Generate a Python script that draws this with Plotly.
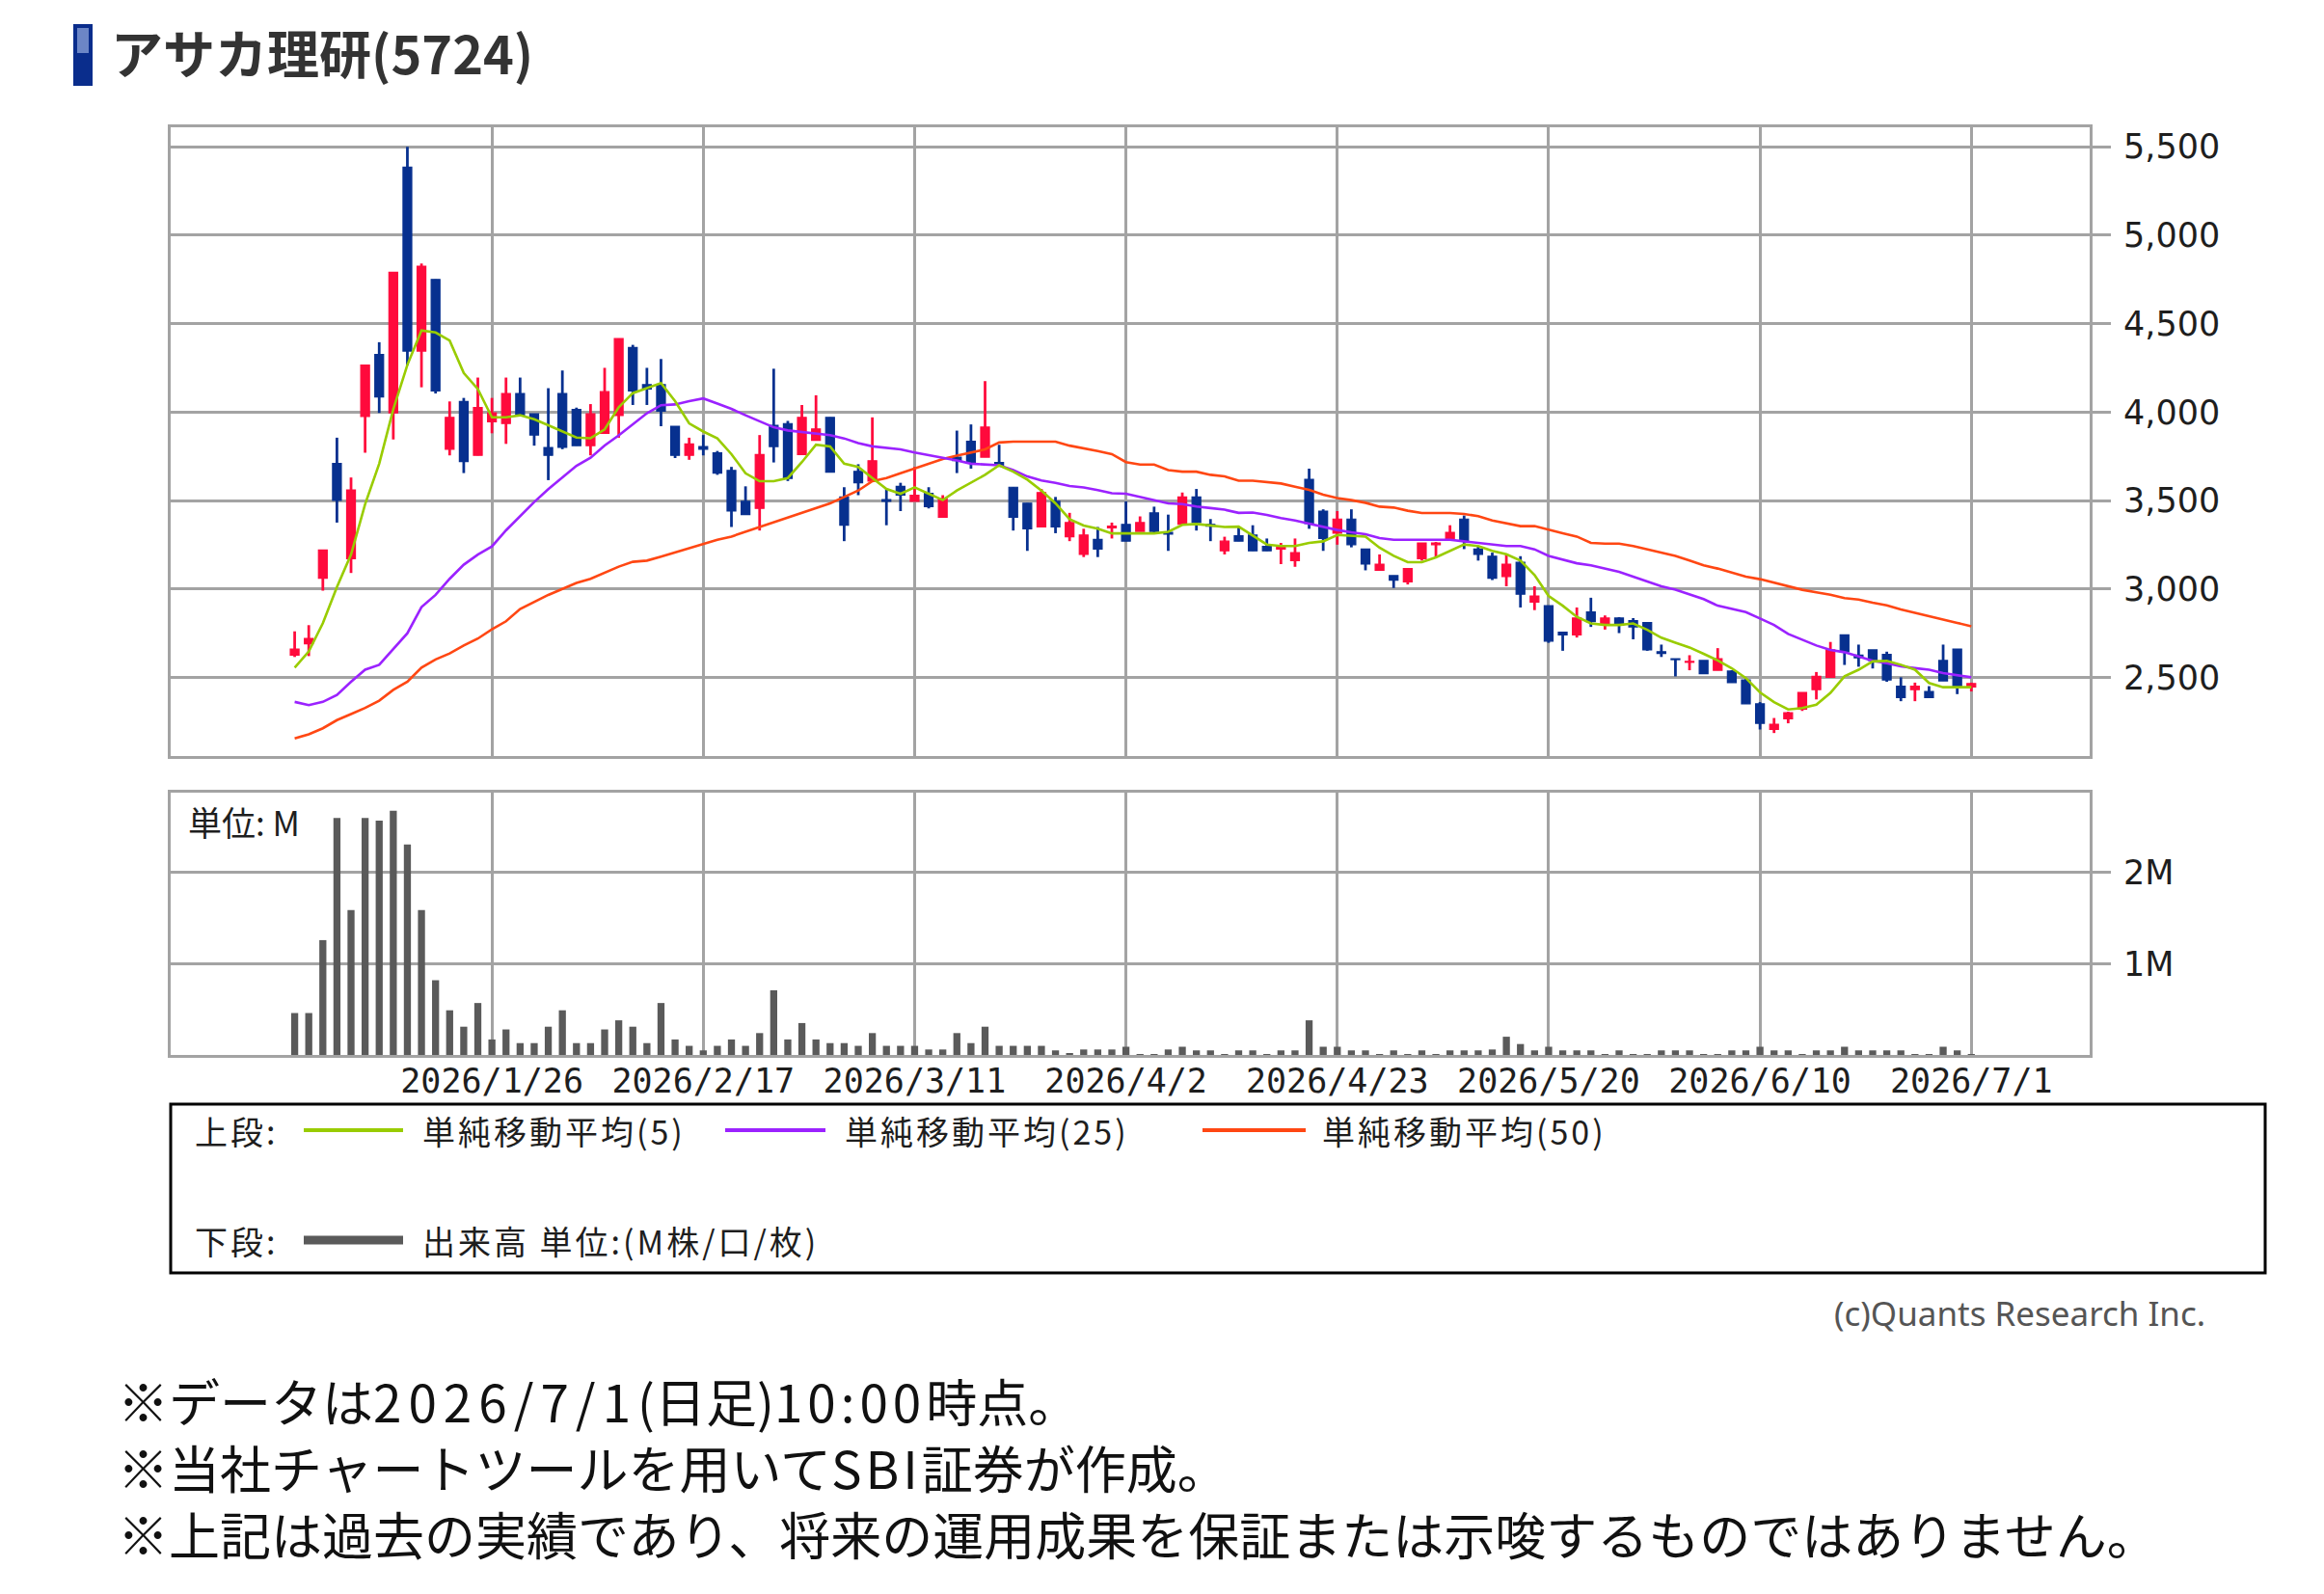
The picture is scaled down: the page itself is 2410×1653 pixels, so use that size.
import pandas as pd
import plotly.graph_objects as go

W, H = 2410, 1653
def px(x): return x / W
def py(y): return 1 - y / H

# ---- calendar (TSE trading days shown) ----
holidays = ["2026-01-12", "2026-02-11", "2026-02-23", "2026-03-20",
            "2026-04-29", "2026-05-04", "2026-05-05", "2026-05-06"]
dates = [d.strftime("%Y-%m-%d") for d in pd.bdate_range("2026-01-05", "2026-07-01")
         if d.strftime("%Y-%m-%d") not in holidays]

tick_dates = ["2026-01-26", "2026-02-17", "2026-03-11", "2026-04-02",
              "2026-04-23", "2026-05-20", "2026-06-10", "2026-07-01"]
tick_labels = ["2026/1/26", "2026/2/17", "2026/3/11", "2026/4/2",
               "2026/4/23", "2026/5/20", "2026/6/10", "2026/7/1"]

price_ticks = [2500, 3000, 3500, 4000, 4500, 5000, 5500]
vol_ticks = [1, 2]
vol_tick_labels = ["1M", "2M"]

open_ = [2625, 2690, 3060, 3710, 3170, 3975, 4325, 3995, 5385, 4345,
         4750, 3790, 4060, 3755, 3945, 3935, 4105, 3990, 3800, 4105,
         4015, 3810, 3880, 3980, 4365, 4155, 4155, 3920, 3755, 3805,
         3770, 3670, 3495, 3455, 3925, 3935, 3760, 3840, 3970, 3520,
         3665, 3610, 3505, 3580, 3495, 3540, 3405, 3745, 3835, 3745,
         3715, 3575, 3485, 3350, 3495, 3295, 3195, 3280, 3345, 3365,
         3325, 3430, 3320, 3365, 3520, 3365, 3215, 3300, 3305, 3240,
         3225, 3160, 3620, 3440, 3315, 3395, 3225, 3105, 3075, 3040,
         3170, 3250, 3285, 3395, 3225, 3185, 3070, 3150, 2925, 2905,
         2755, 2740, 2870, 2805, 2835, 2820, 2810, 2645, 2605, 2585,
         2595, 2540, 2535, 2485, 2350, 2205, 2265, 2320, 2430, 2500,
         2740, 2625, 2655, 2630, 2450, 2430, 2420, 2595, 2660, 2445]

high = [2760, 2795, 3220, 3855, 3630, 4265, 4395, 4790, 5500, 4840,
        4750, 4060, 4080, 4195, 4080, 4195, 4195, 3990, 4135, 4235,
        4025, 4045, 4250, 4415, 4380, 4250, 4300, 3920, 3855, 3870,
        3780, 3690, 3580, 3870, 4245, 3950, 4040, 4095, 3970, 3575,
        3705, 3970, 3565, 3600, 3690, 3575, 3530, 3895, 3930, 4175,
        3815, 3575, 3485, 3565, 3520, 3430, 3340, 3350, 3375, 3495,
        3410, 3465, 3420, 3545, 3565, 3395, 3295, 3350, 3360, 3285,
        3260, 3285, 3680, 3450, 3440, 3450, 3225, 3195, 3075, 3115,
        3260, 3265, 3360, 3415, 3240, 3205, 3195, 3185, 3015, 2905,
        2755, 2895, 2950, 2850, 2840, 2835, 2810, 2685, 2605, 2625,
        2595, 2665, 2540, 2495, 2360, 2270, 2305, 2415, 2530, 2700,
        2740, 2685, 2655, 2645, 2500, 2470, 2450, 2685, 2660, 2470]

low = [2615, 2620, 2990, 3375, 3090, 3770, 3995, 3845, 4265, 4140,
       4105, 3755, 3655, 3755, 3880, 3820, 3975, 3810, 3615, 3790,
       3810, 3755, 3880, 3855, 4040, 4040, 3920, 3740, 3730, 3755,
       3645, 3350, 3420, 3330, 3715, 3610, 3760, 3840, 3660, 3270,
       3530, 3610, 3360, 3440, 3495, 3455, 3405, 3655, 3680, 3745,
       3690, 3330, 3215, 3350, 3315, 3270, 3180, 3180, 3285, 3270,
       3325, 3315, 3215, 3365, 3330, 3270, 3195, 3270, 3215, 3215,
       3140, 3125, 3340, 3215, 3250, 3235, 3105, 3105, 3005, 3025,
       3160, 3180, 3285, 3225, 3160, 3050, 3015, 2895, 2880, 2695,
       2650, 2725, 2785, 2770, 2750, 2715, 2650, 2615, 2505, 2540,
       2520, 2540, 2470, 2350, 2205, 2185, 2240, 2310, 2375, 2500,
       2570, 2560, 2550, 2475, 2365, 2365, 2385, 2480, 2405, 2420]

close = [2660, 2720, 3220, 3500, 3560, 4265, 4085, 4790, 4345, 4825,
         4120, 3970, 3720, 4025, 3995, 4105, 3980, 3870, 3755, 3800,
         3810, 3990, 4115, 4415, 4120, 4130, 4005, 3755, 3820, 3790,
         3655, 3440, 3420, 3760, 3805, 3625, 3970, 3905, 3660, 3360,
         3600, 3725, 3495, 3530, 3530, 3465, 3510, 3725, 3715, 3915,
         3700, 3405, 3340, 3545, 3350, 3375, 3305, 3225, 3355, 3270,
         3375, 3325, 3310, 3520, 3375, 3355, 3270, 3270, 3215, 3215,
         3235, 3205, 3370, 3285, 3395, 3250, 3140, 3140, 3050, 3115,
         3260, 3260, 3320, 3270, 3195, 3060, 3140, 2970, 2960, 2705,
         2740, 2835, 2815, 2835, 2795, 2785, 2655, 2635, 2600, 2590,
         2520, 2605, 2470, 2350, 2240, 2235, 2300, 2415, 2505, 2655,
         2645, 2610, 2595, 2485, 2385, 2450, 2385, 2480, 2450, 2465]

ma5 = [2555, 2646, 2806, 3011, 3194, 3479, 3708, 4016, 4267, 4461,
       4450, 4404, 4221, 4130, 3970, 3970, 3982, 3959, 3925, 3890,
       3856, 3852, 3902, 4027, 4107, 4135, 4164, 4062, 3936, 3890,
       3851, 3762, 3654, 3609, 3609, 3627, 3717, 3815, 3806, 3708,
       3690, 3627, 3565, 3538, 3574, 3538, 3502, 3556, 3600, 3645,
       3699, 3663, 3618, 3556, 3484, 3394, 3358, 3341, 3314, 3314,
       3314, 3314, 3323, 3362, 3367, 3358, 3350, 3352, 3300, 3251,
       3242, 3242, 3260, 3269, 3305, 3302, 3296, 3233, 3187, 3151,
       3151, 3178, 3215, 3251, 3242, 3215, 3196, 3160, 3078, 2960,
       2905, 2842, 2805, 2796, 2796, 2805, 2769, 2724, 2696, 2669,
       2633, 2596, 2551, 2496, 2415, 2360, 2318, 2326, 2345, 2412,
       2506, 2543, 2590, 2593, 2571, 2543, 2468, 2444, 2444, 2444]

ma25 = [2361, 2343, 2361, 2400, 2475, 2543, 2571, 2658, 2749, 2897,
        2966, 3057, 3137, 3194, 3240, 3331, 3411, 3491, 3564, 3628,
        3696, 3742, 3811, 3868, 3929, 3993, 4039, 4043, 4062, 4077,
        4048, 4018, 3982, 3950, 3914, 3896, 3887, 3882, 3869, 3851,
        3824, 3806, 3797, 3789, 3771, 3756, 3744, 3726, 3708, 3703,
        3699, 3672, 3636, 3613, 3600, 3582, 3574, 3559, 3541, 3538,
        3520, 3502, 3484, 3480, 3466, 3457, 3448, 3430, 3432, 3418,
        3400, 3387, 3369, 3351, 3333, 3320, 3309, 3287, 3278, 3278,
        3278, 3278, 3278, 3269, 3260, 3255, 3242, 3242, 3224, 3187,
        3164, 3145, 3133, 3115, 3096, 3069, 3042, 3015, 2996, 2969,
        2942, 2905, 2887, 2869, 2833, 2796, 2745, 2713, 2680, 2655,
        2642, 2618, 2593, 2580, 2562, 2552, 2543, 2524, 2511, 2500]

ma50 = [2155, 2178, 2212, 2258, 2292, 2327, 2368, 2429, 2475, 2555,
        2601, 2635, 2680, 2719, 2772, 2817, 2886, 2925, 2966, 3000,
        3034, 3057, 3091, 3126, 3153, 3160, 3183, 3206, 3228, 3255,
        3278, 3296, 3323, 3350, 3376, 3403, 3430, 3457, 3484, 3520,
        3556, 3609, 3627, 3654, 3681, 3708, 3735, 3753, 3771, 3789,
        3828, 3833, 3833, 3833, 3833, 3810, 3797, 3780, 3762, 3717,
        3703, 3703, 3672, 3663, 3663, 3645, 3636, 3612, 3612, 3605,
        3596, 3578, 3560, 3533, 3514, 3502, 3487, 3465, 3460, 3442,
        3429, 3429, 3429, 3424, 3411, 3387, 3369, 3355, 3355, 3333,
        3315, 3296, 3260, 3256, 3256, 3242, 3224, 3205, 3187, 3160,
        3133, 3115, 3091, 3069, 3055, 3036, 3015, 2995, 2981, 2967,
        2948, 2940, 2922, 2907, 2884, 2866, 2847, 2828, 2808, 2789]

volume_m = [0.46, 0.46, 1.26, 2.60, 1.59, 2.60, 2.57, 2.68, 2.31, 1.59,
            0.82, 0.49, 0.31, 0.57, 0.17, 0.28, 0.13, 0.13, 0.31, 0.49,
            0.13, 0.13, 0.28, 0.38, 0.31, 0.13, 0.57, 0.17, 0.10, 0.05,
            0.10, 0.17, 0.10, 0.24, 0.71, 0.17, 0.35, 0.17, 0.13, 0.13,
            0.10, 0.24, 0.10, 0.10, 0.10, 0.06, 0.06, 0.24, 0.13, 0.31,
            0.10, 0.10, 0.10, 0.10, 0.05, 0.02, 0.06, 0.06, 0.06, 0.09,
            0.01, 0.01, 0.06, 0.09, 0.05, 0.05, 0.01, 0.05, 0.05, 0.01,
            0.05, 0.05, 0.38, 0.09, 0.09, 0.05, 0.05, 0.01, 0.05, 0.01,
            0.05, 0.01, 0.05, 0.05, 0.05, 0.06, 0.20, 0.12, 0.05, 0.09,
            0.05, 0.05, 0.05, 0.01, 0.05, 0.01, 0.01, 0.05, 0.05, 0.05,
            0.01, 0.01, 0.05, 0.05, 0.09, 0.05, 0.05, 0.01, 0.05, 0.05,
            0.09, 0.05, 0.05, 0.05, 0.05, 0.01, 0.01, 0.09, 0.05, 0.01]

# ---- styles ----
RED = "#ff0a3c"
BLUE = "#07308f"
C_MA5 = "#99cc00"
C_MA25 = "#9b22ff"
C_MA50 = "#ff4713"
C_VOL = "#5a5a5a"
GRID = "#a3a3a3"
JP = "Noto Sans CJK JP"

def spaced(s, sp):
    return '<span style="letter-spacing:%spx">%s</span>' % (sp, s)

# candle geometry derived from OHLC
candle_col = [RED if c >= o else BLUE for o, c in zip(open_, close)]
body_base = [min(o, c) for o, c in zip(open_, close)]
body_len = [abs(c - o) for o, c in zip(open_, close)]
wick_len = [h - l for h, l in zip(high, low)]

fig = go.Figure()
# wicks
fig.add_trace(go.Bar(x=dates, y=wick_len, base=low, width=0.19,
                     marker=dict(color=candle_col, line=dict(width=0)),
                     xaxis="x", yaxis="y", showlegend=False, hoverinfo="skip"))
# bodies
fig.add_trace(go.Bar(x=dates, y=body_len, base=body_base, width=0.62,
                     marker=dict(color=candle_col, line=dict(color=candle_col, width=1.2)),
                     xaxis="x", yaxis="y", showlegend=False, hoverinfo="skip"))
for vals, col in [(ma50, C_MA50), (ma25, C_MA25), (ma5, C_MA5)]:
    fig.add_trace(go.Scatter(x=dates, y=vals, mode="lines",
                             line=dict(color=col, width=2.6),
                             xaxis="x", yaxis="y", showlegend=False, hoverinfo="skip"))
fig.add_trace(go.Bar(x=dates, y=volume_m, marker=dict(color=C_VOL, line=dict(width=0)),
                     width=0.5, xaxis="x2", yaxis="y2", showlegend=False, hoverinfo="skip"))

xr = [-8.8, 127.4]
common_x = dict(type="category", categoryorder="array", categoryarray=dates,
                range=xr, tickmode="array", tickvals=tick_dates, ticktext=tick_labels,
                showgrid=True, gridcolor=GRID, gridwidth=2.5,
                showline=True, mirror=True, linecolor=GRID, linewidth=3,
                zeroline=False, ticks="", fixedrange=True)
common_y = dict(side="right", showgrid=True, gridcolor=GRID, gridwidth=2.5,
                showline=True, mirror=True, linecolor=GRID, linewidth=3,
                zeroline=False, ticks="outside", ticklen=19, tickwidth=2.5, tickcolor=GRID,
                tickfont=dict(family="DejaVu Sans", size=35, color="#1e1e1e"),
                ticklabelstandoff=6, fixedrange=True)

fig.update_layout(
    width=W, height=H, margin=dict(l=0, r=0, t=0, b=0),
    paper_bgcolor="white", plot_bgcolor="white", showlegend=False,
    barmode="overlay",
    xaxis=dict(domain=[px(177), px(2167)], anchor="y", showticklabels=False, **common_x),
    yaxis=dict(domain=[py(784), py(131.5)], anchor="x", range=[2055, 5613],
               tickmode="array", tickvals=price_ticks, tickformat=",d", **common_y),
    xaxis2=dict(domain=[px(177), px(2167)], anchor="y2", showticklabels=True,
                tickfont=dict(family="DejaVu Sans Mono", size=35, color="#1e1e1e"),
                ticklabelstandoff=-6, **common_x),
    yaxis2=dict(domain=[py(1094), py(822)], anchor="x2", range=[0, 2.878],
                tickmode="array", tickvals=vol_ticks, ticktext=vol_tick_labels, **common_y),
)

shapes = []
annotations = []

# title bar
shapes.append(dict(type="rect", xref="paper", yref="paper", x0=px(76), x1=px(96), y0=py(89), y1=py(25),
                   fillcolor="#0a2d8c", line=dict(width=0)))
shapes.append(dict(type="rect", xref="paper", yref="paper", x0=px(80), x1=px(92), y0=py(55), y1=py(29),
                   fillcolor="#6c86c6", line=dict(width=0)))
annotations.append(dict(text="<b>アサカ理研(5724)</b>", x=px(113), y=py(54), xref="paper", yref="paper",
                        xanchor="left", yanchor="middle", showarrow=False,
                        font=dict(family=JP, size=54, color="#333333")))

# volume unit label
annotations.append(dict(text="単位: M", x=px(193), y=py(851), xref="paper", yref="paper",
                        xanchor="left", yanchor="middle", showarrow=False,
                        font=dict(family=JP, size=35, color="#1e1e1e")))

# legend box
shapes.append(dict(type="rect", xref="paper", yref="paper", x0=px(177), x1=px(2349), y0=py(1320), y1=py(1145),
                   line=dict(color="#000000", width=3), fillcolor="rgba(0,0,0,0)"))
legend_rows = [
    (1172, "上段:", [(C_MA5, 4, 315, 418, "単純移動平均(5)", 436),
                   (C_MA25, 4, 752, 856, "単純移動平均(25)", 874),
                   (C_MA50, 4, 1247, 1354, "単純移動平均(50)", 1369)]),
    (1286, "下段:", [(C_VOL, 9, 315, 418, "出来高 単位:(M株/口/枚)", 436)]),
]
for yy, head, items in legend_rows:
    annotations.append(dict(text=spaced(head, 3), x=px(200), y=py(yy), xref="paper", yref="paper",
                            xanchor="left", yanchor="middle", showarrow=False,
                            font=dict(family=JP, size=34, color="#1e1e1e")))
    for col, lw, x0, x1, label, tx in items:
        shapes.append(dict(type="line", xref="paper", yref="paper", x0=px(x0), x1=px(x1),
                           y0=py(yy), y1=py(yy), line=dict(color=col, width=lw)))
        annotations.append(dict(text=spaced(label, 3), x=px(tx), y=py(yy), xref="paper", yref="paper",
                                xanchor="left", yanchor="middle", showarrow=False,
                                font=dict(family=JP, size=34, color="#1e1e1e")))

# copyright
annotations.append(dict(text="(c)Quants Research Inc.", x=px(2289), y=py(1361), xref="paper", yref="paper",
                        xanchor="right", yanchor="middle", showarrow=False,
                        font=dict(family="Noto Sans", size=35, color="#555555")))

# footnotes (one block, three lines)
note1 = "※データは" + spaced("2026/7/1", 7) + "(日足)" + spaced("10:00", 5) + "時点。"
note2 = "※当社チャートツールを用いて" + spaced("SBI", 4) + "証券が作成。"
note3 = "※上記は過去の実績であり、将来の運用成果を保証または示唆するものではありません。"
annotations.append(dict(text="<br>".join([note1, note2, note3]), x=px(120), y=py(1521),
                        xref="paper", yref="paper", xanchor="left", yanchor="middle",
                        align="left", showarrow=False,
                        font=dict(family=JP, size=53, color="#111111")))

fig.update_layout(shapes=shapes, annotations=annotations)
fig.write_html("out.html")
